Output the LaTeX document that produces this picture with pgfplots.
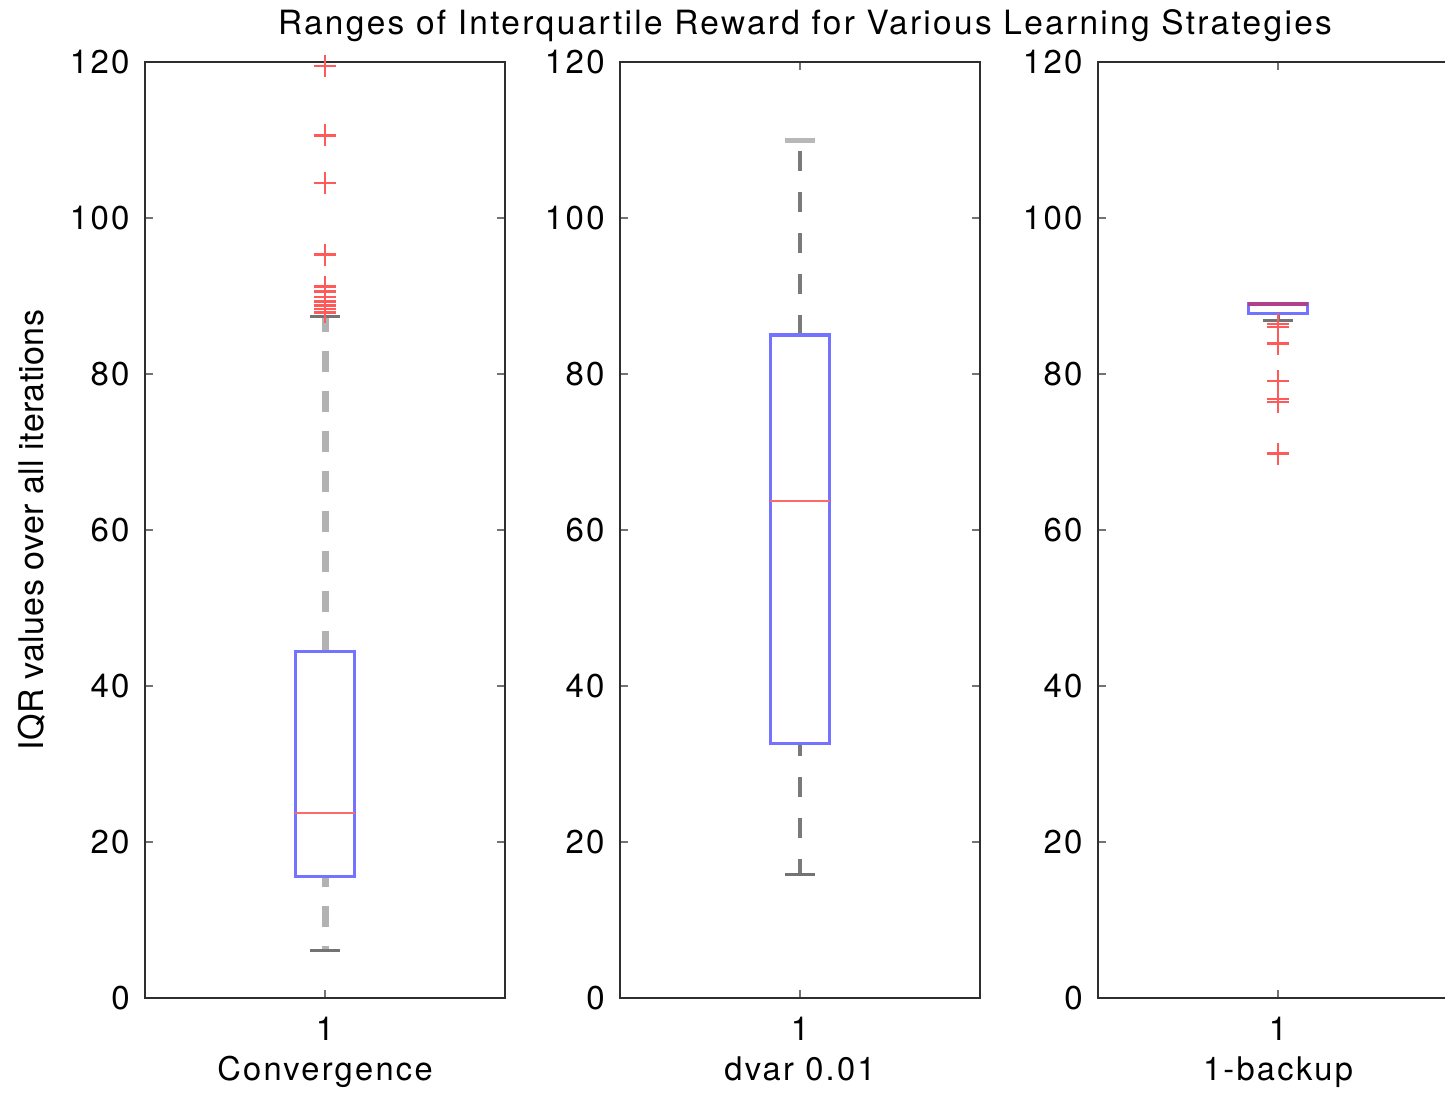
\documentclass[border=0pt]{standalone}
\usepackage{fontspec}
\setmainfont{TeX Gyre Heros}[LetterSpace=7]
\newfontfamily\ylfont{TeX Gyre Heros}[LetterSpace=1]
\usepackage{pgfplots}
\pgfplotsset{compat=1.18}

\definecolor{boxblue}{RGB}{115,115,255}
\definecolor{medred}{RGB}{255,105,105}
\definecolor{outred}{RGB}{255,90,90}

\pgfplotsset{
  mypanel/.style={
    scale only axis, width=180pt, height=468pt, anchor=south west,
    xmin=0.5, xmax=1.5, ymin=0, ymax=120,
    xtick={1}, ytick={0,20,...,120},
    tick align=inside, major tick length=4pt,
    major tick style={black!55, line width=1.1pt},
    axis line style={black!82, line width=1.4pt},
    clip=false,
    /pgf/number format/assume math mode=true,
    tick label style={font=\fontsize{16.5}{19}\selectfont},
    yticklabel style={anchor=east, inner sep=0pt, xshift=-7.5pt},
    xticklabel style={anchor=north, inner sep=0pt, yshift=-9.5pt},
    every axis x label/.style={at={(axis description cs:0.5,0)}, anchor=base,
      yshift=-41pt, font=\fontsize{16.3}{19}\selectfont},
  },
  boxst/.style={draw=boxblue, line width=1.6pt},
  medst/.style={draw=medred, line width=1.2pt},
  capst/.style={draw=black!55, line width=1.5pt},
  outst/.style={only marks, mark=+, mark size=5.5pt,
    mark options={draw=outred, line width=1.2pt, solid}},
}

\begin{document}
\begin{tikzpicture}
% Panel 1: Convergence
\begin{axis}[mypanel, at={(72.5pt,-499pt)}, xlabel={Convergence}]
\addplot[draw=black!30, line width=3.5pt, dash pattern=on 10.5pt off 9.5pt] coordinates {(1,44.4) (1,87.4)};
\addplot[draw=black!30, line width=3.5pt, dash pattern=on 10.5pt off 9.5pt, dash phase=5pt] coordinates {(1,15.6) (1,6.15)};
\addplot[capst] coordinates {(0.958,87.4) (1.042,87.4)};
\addplot[capst] coordinates {(0.958,6.15) (1.042,6.15)};
\addplot[boxst] coordinates {(0.9175,15.6) (1.0825,15.6) (1.0825,44.4) (0.9175,44.4) (0.9175,15.6)} -- cycle;
\addplot[medst] coordinates {(0.9175,23.7) (1.0825,23.7)};
\addplot[outst] coordinates {(1,119.5) (1,110.6) (1,104.5) (1,95.3) (1,91.2) (1,90.6) (1,89.9) (1,89.3) (1,88.8) (1,88.3) (1,87.9)};
\end{axis}
% Panel 2: dvar 0.01
\begin{axis}[mypanel, at={(310pt,-499pt)}, xlabel={dvar 0.01},
  title={Ranges of Interquartile Reward for Various Learning Strategies},
  title style={at={(axis description cs:0.5,1)}, anchor=base, yshift=8pt, xshift=2.5pt,
    font=\fontsize{16.7}{20}\selectfont}]
\addplot[draw=black!52, line width=2pt, dash pattern=on 10pt off 10.5pt] coordinates {(1,85.0) (1,110.0)};
\addplot[draw=black!52, line width=2pt, dash pattern=on 10pt off 10.5pt, dash phase=4pt] coordinates {(1,32.6) (1,15.8)};
\addplot[draw=black!28, line width=2.5pt] coordinates {(0.958,110.0) (1.042,110.0)};
\addplot[capst] coordinates {(0.958,15.8) (1.042,15.8)};
\addplot[boxst] coordinates {(0.9175,32.6) (1.0825,32.6) (1.0825,85.0) (0.9175,85.0) (0.9175,32.6)} -- cycle;
\addplot[medst] coordinates {(0.9175,63.7) (1.0825,63.7)};
\end{axis}
% Panel 3: 1-backup
\begin{axis}[mypanel, at={(549pt,-499pt)}, xlabel={1-backup}]
\addplot[draw=black!55, line width=1.5pt] coordinates {(1,87.8) (1,86.9)};
\addplot[capst] coordinates {(0.958,86.9) (1.042,86.9)};
\addplot[boxst] coordinates {(0.9175,87.8) (1.0825,87.8) (1.0825,89.0) (0.9175,89.0) (0.9175,87.8)} -- cycle;
\addplot[draw=red!45!boxblue, line width=2.2pt] coordinates {(0.9175,89.0) (1.0825,89.0)};
\addplot[outst] coordinates {(1,86.4) (1,86.0) (1,83.9) (1,79.1) (1,76.8) (1,76.4) (1,69.8)};
\end{axis}
\node[rotate=90, anchor=base, font=\ylfont\fontsize{17}{20}\selectfont] at (21.5pt,-265pt) {IQR values over all iterations};
\pgfresetboundingbox
\useasboundingbox (0pt,0pt) rectangle (722.5pt,-546.5pt);
\end{tikzpicture}
\end{document}
